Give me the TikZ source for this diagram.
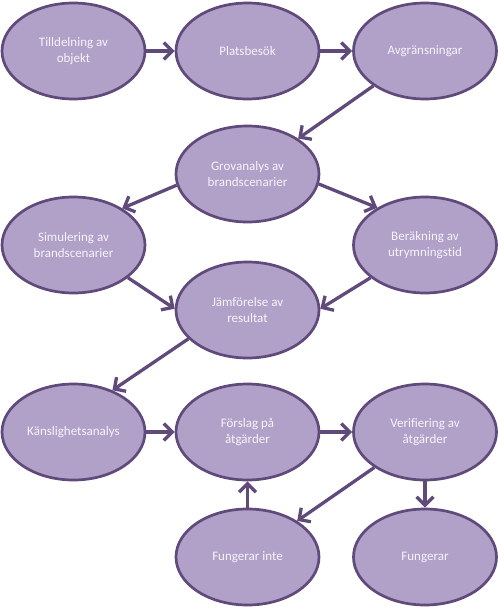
\documentclass[tikz,border=0pt]{standalone}
\usepackage{fontspec}
\setmainfont{Carlito}[Ligatures=NoCommon]
\usetikzlibrary{shapes.geometric,arrows.meta}
\definecolor{ellfill}{HTML}{B1A0C7}
\definecolor{ellline}{HTML}{604A7B}
\definecolor{elltext}{HTML}{F7F4FA}
\tikzset{
  stepell/.style={ellipse, draw=ellline, fill=ellfill, line width=2.7pt,
    minimum width=143pt, minimum height=96pt, inner sep=0pt,
    text=elltext, align=center, font=\fontsize{13pt}{16pt}\selectfont},
  conn/.style={draw=ellline, line width=3.3pt,
    -{Straight Barb[length=8.5pt,width=17pt,line width=3.3pt]}}
}
\begin{document}
\begin{tikzpicture}[x=1pt,y=1pt]
\useasboundingbox (0,0) rectangle (498,-608);
\node[stepell] (till) at (73.5,-51) {Tilldelning av\\objekt};
\node[stepell] (plats) at (247.5,-51) {Platsbesök};
\node[stepell] (avg) at (425,-51) {Avgränsningar};
\node[stepell] (grov) at (247.5,-174) {Grovanalys av\\brandscenarier};
\node[stepell] (sim) at (73.5,-245) {Simulering av\\brandscenarier};
\node[stepell] (ber) at (425,-245) {Beräkning av\\utrymningstid};
\node[stepell] (jam) at (247.5,-310) {Jämförelse av\\resultat};
\node[stepell] (kans) at (73.5,-432) {Känslighetsanalys};
\node[stepell] (forslag) at (247.5,-432) {Förslag på\\åtgärder};
\node[stepell] (verif) at (425,-432) {Verifiering av\\åtgärder};
\node[stepell] (finte) at (247.5,-557) {Fungerar inte};
\node[stepell] (fung) at (425,-557) {Fungerar};
\draw[conn] (till) -- (plats);
\draw[conn] (plats) -- (avg);
\draw[conn] (avg.214) -- (grov.35);
\draw[conn] (grov.189) -- (sim.37);
\draw[conn] (grov.352) -- (ber.142);
\draw[conn] (sim.329) -- (jam.179);
\draw[conn] (ber.211) -- (jam.1);
\draw[conn] (jam.206) -- (kans.47);
\draw[conn] (kans) -- (forslag);
\draw[conn] (forslag) -- (verif);
\draw[conn] (verif.215) -- (finte.36);
\draw[conn] (verif.south) -- (fung.north);
\draw[conn] (finte.north) -- (forslag.south);
\end{tikzpicture}
\end{document}
